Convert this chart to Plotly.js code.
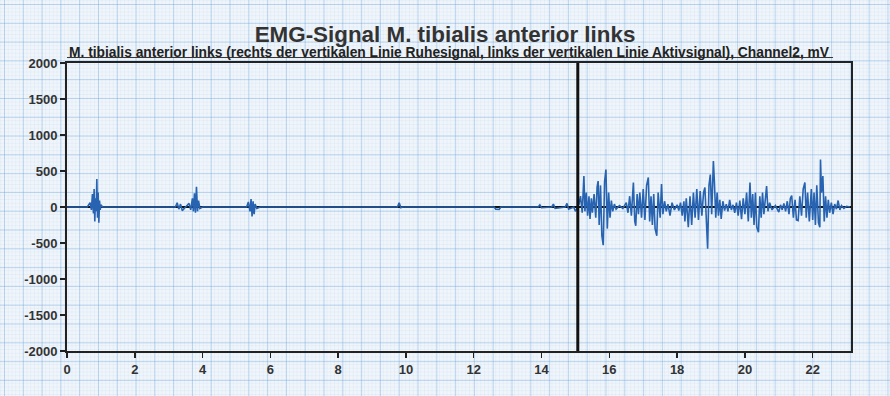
<!DOCTYPE html>
<html>
<head>
<meta charset="utf-8">
<script src="https://cdn.plot.ly/plotly-3.0.1.min.js"></script>
<style>
html, body { margin:0; padding:0; }
body {
  width:890px; height:396px; overflow:hidden;
  background-color:#f0f5fa;
  background-image:
    linear-gradient(to right, rgba(110,165,220,0.40) 1px, transparent 1px),
    linear-gradient(to bottom, rgba(110,165,220,0.40) 1px, transparent 1px),
    linear-gradient(to right, rgba(110,165,220,0.08) 1px, transparent 1px),
    linear-gradient(to bottom, rgba(110,165,220,0.08) 1px, transparent 1px);
  background-size: 18.8px 18.8px, 18.8px 18.8px, 3.76px 3.76px, 3.76px 3.76px;
  background-position: 4px 4px, 4px 4px, 4px 4px, 4px 4px;
}
#chart { width:890px; height:396px; }
</style>
</head>
<body>
<div id="chart"></div>
<script>
// Left of the vertical line: active signal (bursts), time in s, amplitude in mV
var timeBefore = [0, 0.3, 0.6, 0.68, 0.72, 0.75, 0.78, 0.80, 0.82, 0.84, 0.86, 0.88, 0.90, 0.92, 0.94, 0.96, 0.98, 1.00, 1.05, 1.2,
  2.5, 3.2, 3.25, 3.30, 3.35, 3.40, 3.50, 3.60, 3.65, 3.70, 3.73, 3.76, 3.79, 3.82, 3.85, 3.88, 3.92, 4.0,
  5.0, 5.30, 5.35, 5.40, 5.43, 5.46, 5.49, 5.52, 5.55, 5.60, 5.70,
  7.0, 9.75, 9.80, 9.85, 9.90, 12.60, 12.65, 12.75, 12.80, 13.90, 13.95, 14.00, 14.30, 14.35, 14.40, 14.70, 14.75, 14.80, 14.95, 15.00, 15.07];
var valueBefore = [0, 5, 0, 60, -40, 180, -90, 250, -200, 120, -60, 390, -150, 200, -220, 90, -40, 30, 0, 0,
  0, 0, 60, -30, 40, -50, 0, 50, -40, 120, -60, 190, -80, 280, -60, 90, -20, 0,
  0, 0, 70, -60, 110, -130, 80, -100, 40, -20, 0,
  0, 0, 60, -10, 0, 0, -30, -35, 0, 0, 30, -10, 0, 40, -20, 0, 50, -30, 0, -60, 0];

// Right of the vertical line
var timeAfter = [15.10, 15.15, 15.20, 15.25, 15.28, 15.32, 15.36, 15.40, 15.43, 15.47, 15.50, 15.55, 15.60, 15.64, 15.67, 15.70, 15.74, 15.78, 15.82, 15.86, 15.90, 15.94, 15.98,
  16.02, 16.06, 16.10, 16.15, 16.20, 16.30, 16.40, 16.50, 16.55, 16.60, 16.65, 16.71, 16.75, 16.78, 16.82, 16.86, 16.90, 16.95,
  17.00, 17.05, 17.10, 17.15, 17.19, 17.23, 17.27, 17.31, 17.35, 17.40, 17.44, 17.50, 17.54, 17.58, 17.63, 17.68, 17.73, 17.79, 17.85, 17.92,
  18.00, 18.05, 18.10, 18.15, 18.20, 18.23, 18.27, 18.33, 18.38, 18.43, 18.48, 18.53, 18.58, 18.63, 18.68, 18.73, 18.78, 18.82, 18.86, 18.90, 18.94, 18.98,
  19.02, 19.07, 19.10, 19.14, 19.18, 19.22, 19.26, 19.30, 19.35, 19.40, 19.45, 19.50, 19.55, 19.60, 19.65, 19.70, 19.75, 19.80, 19.85, 19.90, 19.95,
  20.00, 20.05, 20.10, 20.15, 20.19, 20.23, 20.27, 20.31, 20.35, 20.40, 20.44, 20.48, 20.52, 20.56, 20.60, 20.64, 20.68, 20.73, 20.80, 20.90,
  21.00, 21.05, 21.10, 21.15, 21.20, 21.25, 21.30, 21.34, 21.38, 21.43, 21.48, 21.52, 21.57, 21.62, 21.67, 21.72, 21.77, 21.81, 21.85, 21.90, 21.96,
  22.00, 22.04, 22.08, 22.12, 22.17, 22.21, 22.23, 22.26, 22.30, 22.34, 22.38, 22.42, 22.46, 22.50, 22.55, 22.60, 22.65, 22.70, 22.75, 22.80, 22.85, 22.92, 23.00, 23.10];
var valueAfter = [30, 150, -80, 430, -60, 200, -120, 150, -165, 120, -80, 180, -150, 280, 360, -250, 300, -400, -530, 350, 520, -300, 200,
  -150, 90, -60, 40, -30, 20, -20, 60, -80, 150, -120, 340, -200, -260, 180, -100, 200, -150,
  250, -180, 300, 410, -200, 150, -250, 180, -300, -400, 200, -150, 320, -100, 80, -60, 40, -120, 60, -40,
  30, -50, 60, -120, 80, -200, 120, -280, 150, -250, 200, -150, 250, -180, 220, -120, 200, 270, -200, -580, 300, 450,
  -100, 640, 350, -150, 200, -120, 100, -165, 80, -50, 40, -60, 100, -40, 30, -80, 60, -120, 90, -170, 120,
  -100, 200, -200, 340, -150, 180, -250, 200, -280, -350, 150, -150, 200, -100, 150, 290, -60, 60, -40, 20,
  -70, 30, -40, 50, -60, 80, -100, 120, 160, -150, 100, -180, -190, 150, -120, 250, 340, -150, 200, -200, 250,
  -180, 200, -250, 300, -220, -280, 660, 200, 430, -200, 150, -150, 100, -80, 60, -100, 40, -30, 90, -40, 20, -20, 10, 0];

var dividerTime = [15.07, 15.07];
var dividerRange = [-2000, 2000];

var xTicks = [0, 2, 4, 6, 8, 10, 12, 14, 16, 18, 20, 22];
var yTicks = [-2000, -1500, -1000, -500, 0, 500, 1000, 1500, 2000];

var titleText = 'EMG-Signal M. tibialis anterior links';
var subtitleText = 'M. tibialis anterior links (rechts der vertikalen Linie Ruhesignal, links der vertikalen Linie Aktivsignal), Channel2, mV';

var signalStyle = { color: '#2763b0', width: 1.6 };

var traces = [
  { x: timeBefore, y: valueBefore, type: 'scatter', mode: 'lines', line: signalStyle, hoverinfo: 'skip' },
  { x: timeAfter, y: valueAfter, type: 'scatter', mode: 'lines', line: signalStyle, hoverinfo: 'skip' },
  { x: dividerTime, y: dividerRange, type: 'scatter', mode: 'lines', line: { color: '#111', width: 3 }, hoverinfo: 'skip' }
];

var layout = {
  width: 890, height: 396,
  margin: { l: 67, r: 39, t: 63, b: 45 },
  paper_bgcolor: 'rgba(0,0,0,0)',
  plot_bgcolor: 'rgba(0,0,0,0)',
  showlegend: false,
  font: { family: 'Liberation Sans, Arial, sans-serif', color: '#222', size: 12 },
  title: {
    text: '<b>' + titleText + '</b>',
    font: { family: 'Liberation Sans, Arial, sans-serif', size: 22.4, color: '#333' },
    x: 0.5, xanchor: 'center', y: 0.915, yanchor: 'middle'
  },
  xaxis: {
    range: [0, 23.13], tickvals: xTicks, ticktext: xTicks.map(String),
    showgrid: false, zeroline: false,
    showline: true, linecolor: '#222', linewidth: 2, mirror: true,
    ticks: 'outside', ticklen: 5, tickcolor: '#222', tickwidth: 1.5,
    tickfont: { size: 13, color: '#333', weight: 'bold' }
  },
  yaxis: {
    range: [-2000, 2000], tickvals: yTicks, ticktext: yTicks.map(String),
    showgrid: false, zeroline: true, zerolinecolor: '#111', zerolinewidth: 1.5,
    showline: true, linecolor: '#222', linewidth: 2, mirror: true,
    ticks: 'outside', ticklen: 5, tickcolor: '#222', tickwidth: 1.5,
    tickfont: { size: 13, color: '#333', weight: 'bold' }
  },
  annotations: [
    { text: subtitleText, xref: 'paper', yref: 'paper',
      x: 0, y: 1, xanchor: 'left', yanchor: 'bottom', yshift: 1, showarrow: false,
      font: { size: 13.8, color: '#222', weight: 'bold', family: 'Liberation Sans, Arial, sans-serif' } }
  ],
  shapes: [
    { type: 'line', xref: 'paper', yref: 'paper', x0: 0, x1: 0.977, y0: 1.019, y1: 1.019,
      line: { color: '#333', width: 1 } }
  ]
};

Plotly.newPlot('chart', traces, layout, { displayModeBar: false, staticPlot: true });
</script>
</body>
</html>
